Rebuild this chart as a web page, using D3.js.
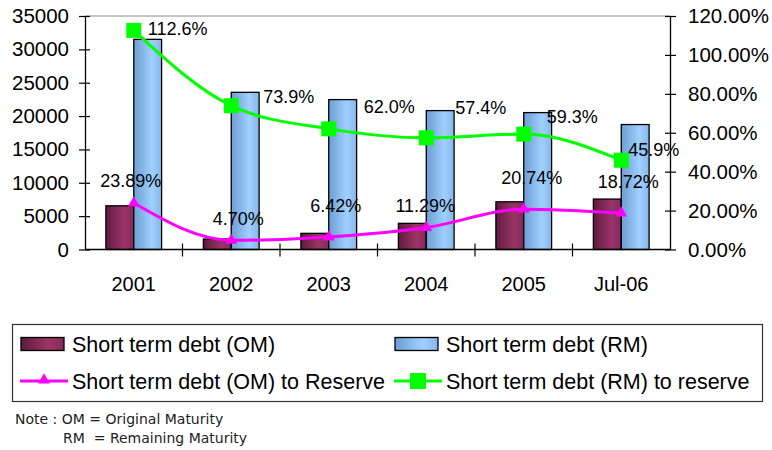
<!DOCTYPE html>
<html>
<head>
<meta charset="utf-8">
<script src="https://cdn.jsdelivr.net/npm/d3@7"></script>
<style>
  body { margin: 0; background: #fff; }
  text { font-family: "Liberation Sans", Arial, sans-serif; fill: #000; }
</style>
</head>
<body>
<div id="chart"></div>
<script>
// data
const years = ["2001", "2002", "2003", "2004", "2005", "Jul-06"];
const debtOM = [6550, 1570, 2420, 3920, 7150, 7560];
const debtRM = [31500, 23560, 22470, 20820, 20520, 18730];
const ratioOM = [23.89, 4.70, 6.42, 11.29, 20.74, 18.72];
const ratioRM = [112.6, 73.9, 62.0, 57.4, 59.3, 45.9];
const leftTicks = [0, 5000, 10000, 15000, 20000, 25000, 30000, 35000];
const rightTicks = [0, 20, 40, 60, 80, 100, 120];
const seriesNames = ["Short term debt (OM)", "Short term debt (RM)",
                     "Short term debt (OM) to Reserve", "Short term debt (RM) to reserve"];
const noteLines = ["Note : OM = Original Maturity", "RM  = Remaining Maturity"];

// hand placed data labels (offsets from the point, in px)
const rmLabelOffset = [[14, -2], [32, -9], [35, -22], [29, -30], [23, -17], [7, -10]];
const omLabelOffset = [[-3, -22], [7, -22], [7, -31], [-1, -22], [8, -31], [7, -31]];

const W = 772, H = 450;
const plot = { left: 85, right: 670, top: 16, bottom: 249.5 };

const svg = d3.select("#chart").append("svg")
    .attr("width", W)
    .attr("height", H);

// gradients for bars
const defs = svg.append("defs");
function grad(id, dark, light, edge) {
    const g = defs.append("linearGradient").attr("id", id)
        .attr("x1", "0%").attr("x2", "100%").attr("y1", "0%").attr("y2", "0%");
    g.append("stop").attr("offset", "0%").attr("stop-color", dark);
    g.append("stop").attr("offset", "65%").attr("stop-color", light);
    g.append("stop").attr("offset", "100%").attr("stop-color", edge);
}
grad("gOM", "#5e1b3f", "#9b3468", "#86295a");
grad("gRM", "#6d9dd2", "#9fd0ff", "#86b6e8");

// scales
const x0 = d3.scaleBand().domain(years).range([plot.left, plot.right]);
const bw = x0.bandwidth() / 3.5; // excel gap width 150%
const x1 = d3.scaleBand().domain(["OM", "RM"])
    .range([(x0.bandwidth() - 2 * bw) / 2, (x0.bandwidth() + 2 * bw) / 2]);
const yL = d3.scaleLinear().domain([0, 35000]).range([plot.bottom, plot.top]);
const yR = d3.scaleLinear().domain([0, 120]).range([plot.bottom, plot.top]);
const cx = d => x0(d) + x0.bandwidth() / 2;

// top border of plot area
svg.append("line")
    .attr("x1", plot.left).attr("x2", plot.right)
    .attr("y1", plot.top).attr("y2", plot.top)
    .attr("stroke", "#8c8c8c").attr("stroke-width", 1.2);

// bars
const barData = years.map((y, i) => ({ year: y, OM: debtOM[i], RM: debtRM[i] }));
const groups = svg.append("g").selectAll("g")
    .data(barData)
    .enter().append("g")
    .attr("transform", d => `translate(${x0(d.year)},0)`);

groups.selectAll("rect")
    .data(d => ["OM", "RM"].map(k => ({ key: k, value: d[k] })))
    .enter().append("rect")
    .attr("x", d => x1(d.key))
    .attr("width", bw)
    .attr("y", d => yL(d.value))
    .attr("height", d => yL(0) - yL(d.value))
    .attr("fill", d => d.key === "OM" ? "url(#gOM)" : "url(#gRM)")
    .attr("stroke", "#000")
    .attr("stroke-width", 1.3);

// axes
const axL = svg.append("g")
    .attr("transform", `translate(${plot.left},0)`)
    .call(d3.axisLeft(yL).tickValues(leftTicks).tickSize(6).tickSizeOuter(0).tickPadding(10)
        .tickFormat(d3.format("d")));
axL.selectAll(".tick line").attr("x2", -6).attr("x1", 5);
axL.selectAll("text").style("font-size", "20.5px");

const axR = svg.append("g")
    .attr("transform", `translate(${plot.right},0)`)
    .call(d3.axisRight(yR).tickValues(rightTicks).tickSize(6).tickSizeOuter(0).tickPadding(12)
        .tickFormat(d => d3.format(".2f")(d) + "%"));
axR.selectAll(".tick line").attr("x1", -5).attr("x2", 6);
axR.selectAll("text").style("font-size", "20.5px");

svg.selectAll(".domain").attr("stroke", "#000").attr("stroke-width", 1.3);
svg.selectAll(".tick line").attr("stroke", "#000").attr("stroke-width", 1.2);
svg.selectAll(".tick text").attr("fill", "#000").style("font-family", "'Liberation Sans', Arial, sans-serif");

// category axis
const axB = svg.append("g");
axB.append("line")
    .attr("x1", plot.left).attr("x2", plot.right)
    .attr("y1", plot.bottom).attr("y2", plot.bottom)
    .attr("stroke", "#000").attr("stroke-width", 1.3);
axB.selectAll(".ctick")
    .data(years.slice(1))
    .enter().append("line")
    .attr("x1", d => x0(d)).attr("x2", d => x0(d))
    .attr("y1", plot.bottom - 6).attr("y2", plot.bottom + 7)
    .attr("stroke", "#000").attr("stroke-width", 1.2);
axB.selectAll(".clabel")
    .data(years)
    .enter().append("text")
    .attr("x", d => cx(d))
    .attr("y", 290.5)
    .attr("text-anchor", "middle")
    .style("font-size", "20px")
    .text(d => d);

// lines
const rmPts = years.map((y, i) => ({ x: cx(y), y: yR(ratioRM[i]), v: ratioRM[i] }));
const omPts = years.map((y, i) => ({ x: cx(y), y: yR(ratioOM[i]), v: ratioOM[i] }));
const lineGen = d3.line().x(d => d.x).y(d => d.y).curve(d3.curveMonotoneX);

svg.append("path").datum(omPts)
    .attr("d", lineGen).attr("fill", "none")
    .attr("stroke", "#ff00ff").attr("stroke-width", 3);
svg.append("path").datum(rmPts)
    .attr("d", lineGen).attr("fill", "none")
    .attr("stroke", "#00ff00").attr("stroke-width", 3);

const tri = d3.symbol(d3.symbolTriangle).size(60);
svg.selectAll(".tri")
    .data(omPts)
    .enter().append("path")
    .attr("d", tri)
    .attr("transform", d => `translate(${d.x},${d.y})`)
    .attr("fill", "#ff00ff");

svg.selectAll(".sq")
    .data(rmPts)
    .enter().append("rect")
    .attr("x", d => d.x - 7.5).attr("y", d => d.y - 7.5)
    .attr("width", 15).attr("height", 15)
    .attr("fill", "#00ff00");

// data labels
svg.selectAll(".lblRM")
    .data(rmPts)
    .enter().append("text")
    .attr("x", (d, i) => d.x + rmLabelOffset[i][0])
    .attr("y", (d, i) => d.y + rmLabelOffset[i][1] + 6.3)
    .style("font-size", "18px")
    .text(d => d3.format(".1f")(d.v) + "%");

svg.selectAll(".lblOM")
    .data(omPts)
    .enter().append("text")
    .attr("x", (d, i) => d.x + omLabelOffset[i][0])
    .attr("y", (d, i) => d.y + omLabelOffset[i][1] + 6.3)
    .attr("text-anchor", "middle")
    .style("font-size", "18px")
    .text(d => d3.format(".2f")(d.v) + "%");

// legend
const lg = svg.append("g");
lg.append("rect")
    .attr("x", 12.5).attr("y", 324.5)
    .attr("width", 750).attr("height", 77)
    .attr("fill", "#fff").attr("stroke", "#333").attr("stroke-width", 1.2);

const legendItems = [
    { name: seriesNames[0], type: "bar", fill: "url(#gOM)", x: 21, y: 344 },
    { name: seriesNames[1], type: "bar", fill: "url(#gRM)", x: 395, y: 344 },
    { name: seriesNames[2], type: "tri", color: "#ff00ff", x: 21, y: 381 },
    { name: seriesNames[3], type: "sq", color: "#00ff00", x: 395, y: 381 }
];
legendItems.forEach(it => {
    if (it.type === "bar") {
        lg.append("rect")
            .attr("x", it.x).attr("y", it.y - 6.5)
            .attr("width", 43).attr("height", 13)
            .attr("fill", it.fill).attr("stroke", "#000").attr("stroke-width", 1.3);
    } else {
        lg.append("line")
            .attr("x1", it.x - 1).attr("x2", it.x + 47)
            .attr("y1", it.y).attr("y2", it.y)
            .attr("stroke", it.color).attr("stroke-width", 3);
        if (it.type === "tri") {
            lg.append("path").attr("d", tri)
                .attr("transform", `translate(${it.x + 23},${it.y - 1})`)
                .attr("fill", it.color);
        } else {
            lg.append("rect")
                .attr("x", it.x + 15).attr("y", it.y - 8)
                .attr("width", 16).attr("height", 16)
                .attr("fill", it.color);
        }
    }
    lg.append("text")
        .attr("x", it.x + 51).attr("y", it.y + 7.5)
        .style("font-size", "21.5px")
        .text(it.name);
});

// note
svg.selectAll(".note")
    .data(noteLines)
    .enter().append("text")
    .attr("x", (d, i) => i === 0 ? 15 : 63)
    .attr("y", (d, i) => 424 + i * 19)
    .style("font-family", "'DejaVu Sans', Verdana, sans-serif")
    .style("font-size", "14px")
    .style("white-space", "pre")
    .style("fill", "#222")
    .text(d => d);
</script>
</body>
</html>
